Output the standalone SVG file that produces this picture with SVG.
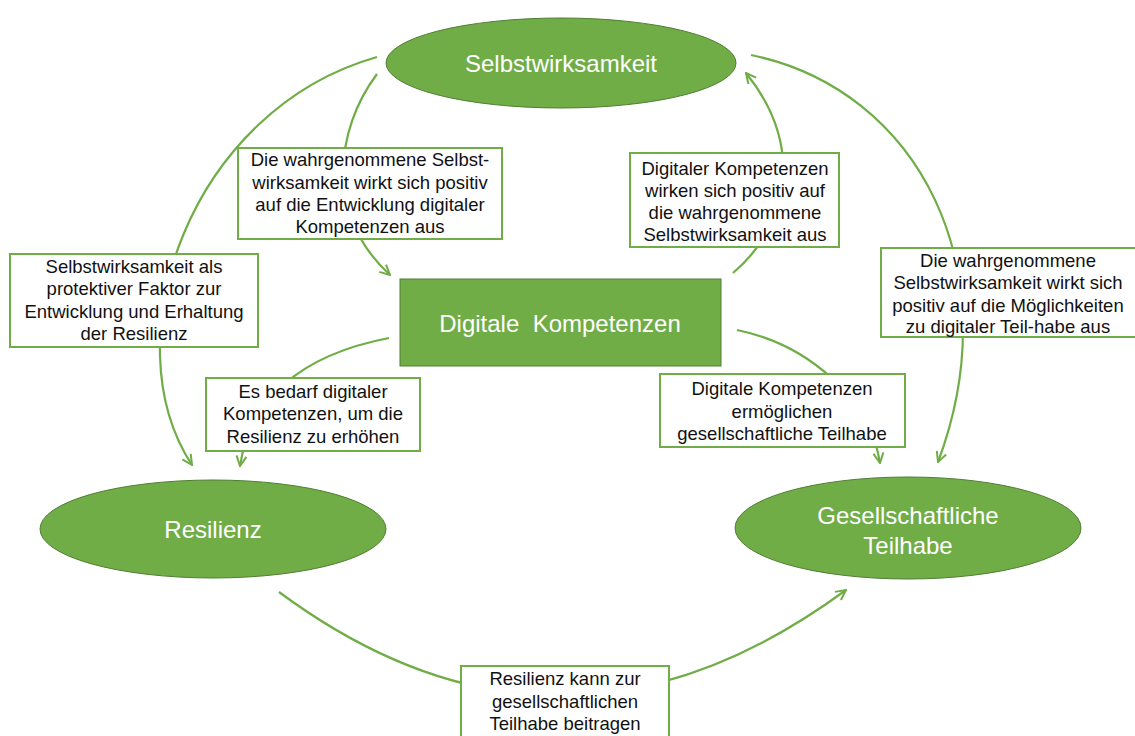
<svg xmlns="http://www.w3.org/2000/svg" width="1135" height="736" viewBox="0 0 1135 736">
<defs>
<marker id="arr" viewBox="0 0 12 12" refX="11" refY="6" markerWidth="12" markerHeight="12" markerUnits="userSpaceOnUse" orient="auto">
<path d="M1,1 L11,6 L1,11" fill="none" stroke="#70AD47" stroke-width="2" stroke-linejoin="miter"/>
</marker>
<style>
.c{fill:none;stroke:#70AD47;stroke-width:2.2}
.n{fill:#70AD47;stroke:#507E32;stroke-width:1}
.b{fill:#fff;stroke:#70AD47;stroke-width:2}
.t{font-family:"Liberation Sans",Arial,sans-serif;font-size:18.5px;fill:#111;text-anchor:middle}
.w{font-family:"Liberation Sans",Arial,sans-serif;font-size:24px;fill:#fff;text-anchor:middle}
</style>
</defs>
<rect width="1135" height="736" fill="#fff"/>
<g id="connectors">
<path class="c" d="M377,57 C190,110 110,340 192,465" marker-end="url(#arr)"/>
<path class="c" d="M377,74 C335,130 325,215 390,275" marker-end="url(#arr)"/>
<path class="c" d="M733,273 C795,220 800,140 746,73" marker-end="url(#arr)"/>
<path class="c" d="M751,55 C920,90 1010,270 938,462" marker-end="url(#arr)"/>
<path class="c" d="M389,338 C300,355 250,400 240,466" marker-end="url(#arr)"/>
<path class="c" d="M737,330 C810,345 870,400 880,463" marker-end="url(#arr)"/>
<path class="c" d="M279,592 Q560,800 846,590" marker-end="url(#arr)"/>
</g>
<g id="selbstwirksamkeit">
<ellipse class="n" cx="561" cy="63" rx="175" ry="45"/>
<text class="w" x="561" y="72">Selbstwirksamkeit</text>
</g>
<g id="digitale-kompetenzen">
<rect class="n" x="400" y="279" width="321" height="87"/>
<text class="w" x="560" y="332" xml:space="preserve">Digitale  Kompetenzen</text>
</g>
<g id="resilienz">
<ellipse class="n" cx="213" cy="529" rx="173" ry="49"/>
<text class="w" x="213" y="538">Resilienz</text>
</g>
<g id="teilhabe">
<ellipse class="n" cx="908" cy="528" rx="173" ry="51"/>
<text class="w" x="908" y="524">Gesellschaftliche</text>
<text class="w" x="908" y="554">Teilhabe</text>
</g>
<g id="label-sw-dk">
<rect class="b" x="238" y="148" width="264" height="91"/>
<text class="t" x="370" y="166">Die wahrgenommene Selbst-</text>
<text class="t" x="370" y="189">wirksamkeit wirkt sich positiv</text>
<text class="t" x="370" y="211">auf die Entwicklung digitaler</text>
<text class="t" x="370" y="233">Kompetenzen aus</text>
</g>
<g id="label-dk-sw">
<rect class="b" x="630" y="153" width="209" height="94"/>
<text class="t" x="735" y="175">Digitaler Kompetenzen</text>
<text class="t" x="735" y="197">wirken sich positiv auf</text>
<text class="t" x="735" y="219">die wahrgenommene</text>
<text class="t" x="735" y="241">Selbstwirksamkeit aus</text>
</g>
<g id="label-sw-res">
<rect class="b" x="10" y="254" width="248" height="93"/>
<text class="t" x="134" y="273">Selbstwirksamkeit als</text>
<text class="t" x="134" y="295">protektiver Faktor zur</text>
<text class="t" x="134" y="318">Entwicklung und Erhaltung</text>
<text class="t" x="134" y="340">der Resilienz</text>
</g>
<g id="label-dk-res">
<rect class="b" x="206" y="378" width="214" height="73"/>
<text class="t" x="313" y="398">Es bedarf digitaler</text>
<text class="t" x="313" y="420">Kompetenzen, um die</text>
<text class="t" x="313" y="443">Resilienz zu erhöhen</text>
</g>
<g id="label-dk-gt">
<rect class="b" x="660" y="374" width="245" height="73"/>
<text class="t" x="782" y="395">Digitale Kompetenzen</text>
<text class="t" x="782" y="418">ermöglichen</text>
<text class="t" x="782" y="440">gesellschaftliche Teilhabe</text>
</g>
<g id="label-sw-gt">
<rect class="b" x="881" y="248" width="258" height="89"/>
<text class="t" x="1008" y="267">Die wahrgenommene</text>
<text class="t" x="1008" y="289">Selbstwirksamkeit wirkt sich</text>
<text class="t" x="1008" y="312">positiv auf die Möglichkeiten</text>
<text class="t" x="1008" y="333">zu digitaler Teil-habe aus</text>
</g>
<g id="label-res-gt">
<rect class="b" x="461" y="666" width="208" height="80"/>
<text class="t" x="565" y="685">Resilienz kann zur</text>
<text class="t" x="565" y="708">gesellschaftlichen</text>
<text class="t" x="565" y="730">Teilhabe beitragen</text>
</g>
</svg>
